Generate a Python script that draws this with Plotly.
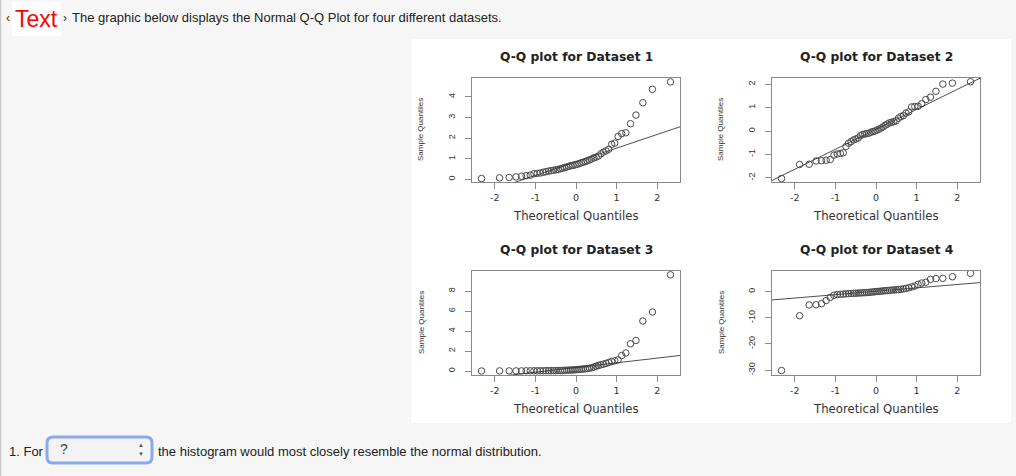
import numpy as np
import plotly.graph_objects as go

W, H = 1016, 476

# Theoretical normal quantiles for n = 50 (ppoints)
theo_q = [-2.326, -1.881, -1.645, -1.476, -1.341, -1.227, -1.126, -1.036, -0.954, -0.878,
          -0.806, -0.739, -0.674, -0.613, -0.553, -0.496, -0.440, -0.385, -0.332, -0.279,
          -0.228, -0.176, -0.126, -0.075, -0.025, 0.025, 0.075, 0.126, 0.176, 0.228,
          0.279, 0.332, 0.385, 0.440, 0.496, 0.553, 0.613, 0.674, 0.739, 0.806,
          0.878, 0.954, 1.036, 1.126, 1.227, 1.341, 1.476, 1.645, 1.881, 2.326]

dataset1 = [0.04, 0.07, 0.09, 0.12, 0.15, 0.18, 0.20, 0.27, 0.29, 0.31,
            0.34, 0.37, 0.40, 0.42, 0.44, 0.46, 0.48, 0.51, 0.54, 0.57,
            0.60, 0.63, 0.66, 0.68, 0.70, 0.73, 0.76, 0.80, 0.83, 0.86,
            0.90, 0.94, 0.99, 1.04, 1.08, 1.13, 1.24, 1.32, 1.38, 1.46,
            1.70, 1.76, 2.08, 2.22, 2.26, 2.70, 3.12, 3.72, 4.37, 4.73]

dataset2 = [-2.03, -1.43, -1.42, -1.28, -1.27, -1.25, -1.22, -1.03, -0.98, -0.96,
            -0.93, -0.66, -0.52, -0.45, -0.38, -0.34, -0.30, -0.20, -0.15, -0.13,
            -0.11, -0.09, -0.05, -0.02, 0.00, 0.04, 0.08, 0.13, 0.18, 0.25,
            0.30, 0.35, 0.38, 0.40, 0.44, 0.55, 0.62, 0.66, 0.77, 0.82,
            1.03, 1.05, 1.06, 1.17, 1.35, 1.45, 1.70, 2.01, 2.05, 2.11]

dataset3 = [0.00, 0.01, 0.01, 0.01, 0.01, 0.02, 0.02, 0.02, 0.02, 0.02,
            0.02, 0.03, 0.03, 0.03, 0.04, 0.04, 0.05, 0.05, 0.06, 0.07,
            0.08, 0.09, 0.10, 0.11, 0.12, 0.14, 0.16, 0.18, 0.20, 0.22,
            0.25, 0.28, 0.32, 0.40, 0.48, 0.55, 0.62, 0.68, 0.76, 0.85,
            0.95, 1.02, 1.12, 1.55, 1.80, 2.72, 3.05, 5.00, 5.90, 9.62]

dataset4 = [-30.2, -9.2, -5.1, -5.0, -4.6, -3.4, -2.2, -1.4, -1.1, -1.0,
            -0.95, -0.85, -0.75, -0.70, -0.65, -0.60, -0.55, -0.50, -0.45, -0.40,
            -0.35, -0.28, -0.20, -0.12, -0.05, 0.05, 0.12, 0.20, 0.28, 0.35,
            0.42, 0.50, 0.58, 0.65, 0.72, 0.80, 0.90, 1.05, 1.25, 1.50,
            1.80, 2.10, 2.80, 3.30, 3.60, 4.70, 5.00, 5.10, 5.70, 7.00]

titles = ["Q-Q plot for Dataset 1", "Q-Q plot for Dataset 2",
          "Q-Q plot for Dataset 3", "Q-Q plot for Dataset 4"]
x_ticks = [-2, -1, 0, 1, 2]
y_ticks = [[0, 1, 2, 3, 4], [-2, -1, 0, 1, 2], [0, 2, 4, 6, 8], [-30, -20, -10, 0]]
y_ranges = [[-0.13, 4.92], [-2.18, 2.27], [-0.4, 10.0], [-31.9, 7.9]]
datasets = [dataset1, dataset2, dataset3, dataset4]

FONT = "Liberation Sans, Arial, Helvetica, sans-serif"
RFONT = "DejaVu Sans, Liberation Sans, sans-serif"


def px(x):
    return x / W


def py(y):
    return 1 - y / H


# panel boxes in pixels: (left, right, top, bottom)
boxes = [(472, 680, 78, 182), (772, 980, 78, 182),
         (472, 680, 271, 375), (772, 980, 271, 375)]

fig = go.Figure()
annotations = []
shapes = []

# page decorations
shapes.append(dict(type="rect", xref="paper", yref="paper", x0=px(411), x1=px(1011),
                   y0=py(423), y1=py(39), fillcolor="white", line=dict(width=0), layer="below"))
shapes.append(dict(type="line", xref="paper", yref="paper", x0=px(0.6), x1=px(0.6),
                   y0=0, y1=1, line=dict(color="#c8c8c8", width=1.2)))
shapes.append(dict(type="rect", xref="paper", yref="paper", x0=px(12), x1=px(61),
                   y0=py(36), y1=py(2), fillcolor="white", line=dict(width=0), layer="below"))

Z25 = 0.6745
for i, (d, box) in enumerate(zip(datasets, boxes)):
    n = i + 1
    xa = "x" if n == 1 else f"x{n}"
    ya = "y" if n == 1 else f"y{n}"
    fig.add_trace(go.Scatter(x=theo_q, y=d, mode="markers", xaxis=xa, yaxis=ya,
                             marker=dict(symbol="circle-open", size=6.5, color="#4a4a4a",
                                         line=dict(width=1, color="#4a4a4a")),
                             showlegend=False, hoverinfo="x+y"))
    q1, q3 = np.quantile(np.array(d), [0.25, 0.75])
    slope = (q3 - q1) / (2 * Z25)
    inter = q1 + slope * Z25
    lx = np.array([-3.5, 3.5])
    fig.add_trace(go.Scatter(x=lx, y=inter + slope * lx, mode="lines", xaxis=xa, yaxis=ya,
                             line=dict(color="#3a3a3a", width=0.9),
                             showlegend=False, hoverinfo="skip"))
    l, r, t, b = box
    axcommon = dict(showline=True, mirror=True, linecolor="#8a8a8a", linewidth=1.3,
                    ticks="outside", ticklen=6, tickcolor="#8a8a8a", tickwidth=1,
                    showgrid=False, zeroline=False, fixedrange=True)
    xkey = "xaxis" if n == 1 else f"xaxis{n}"
    ykey = "yaxis" if n == 1 else f"yaxis{n}"
    fig.update_layout(**{
        xkey: dict(domain=[px(l), px(r)], range=[-2.56, 2.56], anchor=ya,
                   tickvals=x_ticks, ticktext=[str(v) for v in x_ticks],
                   tickfont=dict(family=RFONT, size=9.5, color="#333"), **axcommon),
        ykey: dict(domain=[py(b), py(t)], range=y_ranges[i], anchor=xa,
                   tickvals=y_ticks[i], ticktext=[str(v) for v in y_ticks[i]],
                   tickangle=-90, ticklabelstandoff=6,
                   tickfont=dict(family=FONT, size=9, color="#333"), **axcommon),
    })
    cx = (l + r) / 2
    cy = (t + b) / 2
    annotations.append(dict(text=f"<b>{titles[i]}</b>", x=px(cx), y=py(t - 21), xref="paper",
                            yref="paper", showarrow=False, xanchor="center", yanchor="middle",
                            font=dict(family=RFONT, size=12.3, color="#222")))
    annotations.append(dict(text="Theoretical Quantiles", x=px(cx), y=py(b + 34), xref="paper",
                            yref="paper", showarrow=False, xanchor="center", yanchor="middle",
                            font=dict(family=RFONT, size=11.7, color="#333")))
    annotations.append(dict(text="Sample Quantiles", x=px(l - 51), y=py(cy), xref="paper",
                            yref="paper", showarrow=False, xanchor="center", yanchor="middle",
                            textangle=-90, font=dict(family=FONT, size=8, color="#333")))

# header text
annotations += [
    dict(text="Text", x=px(36), y=py(19), xref="paper", yref="paper", showarrow=False,
         xanchor="center", yanchor="middle", font=dict(family=FONT, size=23, color="#ff0000")),
    dict(text="‹", x=px(8), y=py(18), xref="paper", yref="paper", showarrow=False,
         xanchor="center", yanchor="middle", font=dict(family=FONT, size=12, color="#333")),
    dict(text="›", x=px(65), y=py(18), xref="paper", yref="paper", showarrow=False,
         xanchor="center", yanchor="middle", font=dict(family=FONT, size=12, color="#333")),
    dict(text="The graphic below displays the Normal Q-Q Plot for four different datasets.",
         x=px(70), y=py(18), xref="paper", yref="paper", showarrow=False,
         xanchor="left", yanchor="middle", font=dict(family=FONT, size=13, color="#222")),
    dict(text="1. For", x=px(7), y=py(451), xref="paper", yref="paper", showarrow=False,
         xanchor="left", yanchor="middle", font=dict(family=FONT, size=13, color="#222")),
    dict(text="the histogram would most closely resemble the normal distribution.",
         x=px(156), y=py(451), xref="paper", yref="paper", showarrow=False,
         xanchor="left", yanchor="middle", font=dict(family=FONT, size=13, color="#222")),
    dict(text="?", x=px(58), y=py(449), xref="paper", yref="paper", showarrow=False,
         xanchor="left", yanchor="middle", font=dict(family=FONT, size=14, color="#444")),
    dict(text="▲", x=px(141), y=py(445), xref="paper", yref="paper", showarrow=False,
         xanchor="center", yanchor="middle", font=dict(family=FONT, size=6, color="#555")),
    dict(text="▼", x=px(141), y=py(454), xref="paper", yref="paper", showarrow=False,
         xanchor="center", yanchor="middle", font=dict(family=FONT, size=6, color="#555")),
]


def rounded_rect(x0, y0, x1, y1, rr):
    return (f"M {px(x0 + rr)},{py(y0)} L {px(x1 - rr)},{py(y0)} "
            f"Q {px(x1)},{py(y0)} {px(x1)},{py(y0 + rr)} "
            f"L {px(x1)},{py(y1 - rr)} Q {px(x1)},{py(y1)} {px(x1 - rr)},{py(y1)} "
            f"L {px(x0 + rr)},{py(y1)} Q {px(x0)},{py(y1)} {px(x0)},{py(y1 - rr)} "
            f"L {px(x0)},{py(y0 + rr)} Q {px(x0)},{py(y0)} {px(x0 + rr)},{py(y0)} Z")


shapes.append(dict(type="path", xref="paper", yref="paper",
                   path=rounded_rect(47, 437, 152, 463, 6),
                   fillcolor="#f4f4f4", line=dict(color="#8aa8f0", width=3)))

fig.update_layout(width=W, height=H, margin=dict(l=0, r=0, t=0, b=0),
                  paper_bgcolor="#f6f6f6", plot_bgcolor="white",
                  annotations=annotations, shapes=shapes,
                  font=dict(family=FONT))

fig.write_html("out.html", config={"displayModeBar": False},
               post_script="document.body.style.margin='0';document.body.style.background='#f6f6f6';")
